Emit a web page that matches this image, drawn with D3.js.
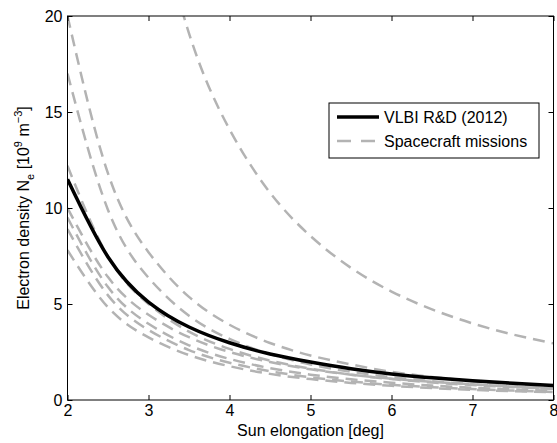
<!DOCTYPE html>
<html>
<head>
<meta charset="utf-8">
<script src="https://cdn.jsdelivr.net/npm/d3@7"></script>
<style>
  body { margin: 0; background: #fff; }
  svg { display: block; }
</style>
</head>
<body>
<div id="chart"></div>
<script>
// sun elongation grid [deg]
var elongation = [2, 2.5, 3, 3.5, 4, 4.5, 5, 5.5, 6, 6.5, 7, 7.5, 8];
var xTicks = [2, 3, 4, 5, 6, 7, 8];
var yTicks = [0, 5, 10, 15, 20];

// electron density [10^9 m^-3]
var vlbiRD2012 = [11.5, 7.45, 5.1, 3.8, 2.98, 2.4, 1.98, 1.63, 1.36, 1.16, 1.0, 0.87, 0.76];

var missionA = [null, null, 27.1, 19.1, 14.1, 10.8, 8.54, 6.88, 5.65, 4.72, 3.99, 3.41, 2.95];
var missionB = [20.0, 11.8, 7.7, 5.37, 3.92, 2.97, 2.32, 1.85, 1.47, 1.2, 0.98, 0.81, 0.68];
var missionC = [17.0, 9.9, 6.37, 4.39, 3.18, 2.39, 1.85, 1.47, 1.19, 0.98, 0.82, 0.69, 0.59];
var missionD = [12.2, 7.47, 5.0, 3.56, 2.66, 2.05, 1.63, 1.32, 1.09, 0.91, 0.78, 0.67, 0.58];
var missionE = [10.0, 6.4, 4.44, 3.27, 2.5, 1.98, 1.6, 1.32, 1.11, 0.95, 0.82, 0.71, 0.62];
var missionF = [9.5, 5.88, 3.97, 2.85, 2.14, 1.66, 1.32, 1.08, 0.9, 0.75, 0.64, 0.55, 0.48];
var missionG = [8.9, 5.45, 3.65, 2.6, 1.94, 1.5, 1.18, 0.96, 0.79, 0.67, 0.57, 0.49, 0.42];
var missionH = [7.8, 4.83, 3.26, 2.34, 1.76, 1.36, 1.09, 0.89, 0.74, 0.62, 0.53, 0.46, 0.4];

var missions = [missionA, missionB, missionC, missionD, missionE, missionF, missionG, missionH];
var legendLabels = ["VLBI R&D (2012)", "Spacecraft missions"];

var W = 557, H = 443;
var FONT = "'Liberation Sans', Arial, Helvetica, sans-serif";
var GRAY = "#b3b3b3";
var DASH = "12,7";

var x = d3.scaleLinear().domain([2, 8]).range([67.5, 553.5]);
var y = d3.scaleLinear().domain([0, 20]).range([400, 16]);

var svg = d3.select("#chart").append("svg")
	.attr("width", W)
	.attr("height", H);

svg.append("defs").append("clipPath")
	.attr("id", "plotclip")
	.append("rect")
	.attr("x", x(2))
	.attr("y", y(20))
	.attr("width", x(8) - x(2))
	.attr("height", y(0) - y(20));

function lineFor(values) {
	return d3.line()
		.defined(function (d, i) { return values[i] != null; })
		.x(function (d, i) { return x(elongation[i]); })
		.y(function (d, i) { return y(values[i]); })
		.curve(d3.curveNatural)(values);
}

var plot = svg.append("g").attr("clip-path", "url(#plotclip)");

plot.selectAll("path.mission")
	.data(missions)
	.enter().append("path")
	.attr("class", "mission")
	.attr("d", function (d) { return lineFor(d); })
	.attr("fill", "none")
	.attr("stroke", GRAY)
	.attr("stroke-width", 2.5)
	.attr("stroke-dasharray", DASH);

plot.append("path")
	.attr("d", lineFor(vlbiRD2012))
	.attr("fill", "none")
	.attr("stroke", "#000")
	.attr("stroke-width", 3.5);

// axes, ticks pointing inward like matlab
function styleAxis(g) {
	g.attr("font-family", FONT).attr("font-size", 16);
	g.select(".domain").remove();
	g.selectAll(".tick line").attr("stroke", "#000");
	g.selectAll(".tick text").attr("fill", "#000");
}

svg.append("g")
	.attr("transform", "translate(0," + y(0) + ")")
	.call(d3.axisBottom(x).tickValues(xTicks).tickSize(-5).tickPadding(5).tickFormat(d3.format("d")))
	.call(styleAxis);

svg.append("g")
	.attr("transform", "translate(" + x(2) + ",0)")
	.call(d3.axisLeft(y).tickValues(yTicks).tickSize(-5).tickPadding(5).tickFormat(d3.format("d")))
	.call(styleAxis);

svg.append("g")
	.attr("transform", "translate(0," + y(20) + ")")
	.call(d3.axisTop(x).tickValues(xTicks).tickSize(-5).tickFormat(""))
	.call(styleAxis);

svg.append("g")
	.attr("transform", "translate(" + x(8) + ",0)")
	.call(d3.axisRight(y).tickValues(yTicks).tickSize(-5).tickFormat(""))
	.call(styleAxis);

svg.append("rect")
	.attr("x", x(2))
	.attr("y", y(20))
	.attr("width", x(8) - x(2))
	.attr("height", y(0) - y(20))
	.attr("fill", "none")
	.attr("stroke", "#000")
	.attr("stroke-width", 1);

// axis labels
svg.append("text")
	.attr("x", (x(2) + x(8)) / 2)
	.attr("y", 436)
	.attr("text-anchor", "middle")
	.attr("font-family", FONT)
	.attr("font-size", 16)
	.text("Sun elongation [deg]");

var ylab = svg.append("text")
	.attr("transform", "translate(29," + ((y(0) + y(20)) / 2) + ") rotate(-90)")
	.attr("text-anchor", "middle")
	.attr("font-family", FONT)
	.attr("font-size", 16);
ylab.append("tspan").text("Electron density N");
ylab.append("tspan").attr("font-size", 11).attr("dy", 5).text("e");
ylab.append("tspan").attr("dy", -5).text(" [10");
ylab.append("tspan").attr("font-size", 11).attr("dy", -7).text("9");
ylab.append("tspan").attr("dy", 7).text(" m");
ylab.append("tspan").attr("font-size", 11).attr("dy", -7).text("\u22123");
ylab.append("tspan").attr("dy", 7).text("]");

// legend
var legend = svg.append("g").attr("transform", "translate(329,103)");
legend.append("rect")
	.attr("width", 210)
	.attr("height", 55)
	.attr("fill", "#fff")
	.attr("stroke", "#000")
	.attr("stroke-width", 1);

legend.selectAll("line.key")
	.data(legendLabels)
	.enter().append("line")
	.attr("class", "key")
	.attr("x1", 8)
	.attr("x2", 50)
	.attr("y1", function (d, i) { return 14 + i * 24; })
	.attr("y2", function (d, i) { return 14 + i * 24; })
	.attr("stroke", function (d, i) { return i === 0 ? "#000" : GRAY; })
	.attr("stroke-width", function (d, i) { return i === 0 ? 3.5 : 2.5; })
	.attr("stroke-dasharray", function (d, i) { return i === 0 ? null : "14,10"; });

legend.selectAll("text.key")
	.data(legendLabels)
	.enter().append("text")
	.attr("class", "key")
	.attr("x", 55)
	.attr("y", function (d, i) { return 14 + i * 24; })
	.attr("dy", "0.35em")
	.attr("font-family", FONT)
	.attr("font-size", 16)
	.text(function (d) { return d; });
</script>
</body>
</html>
